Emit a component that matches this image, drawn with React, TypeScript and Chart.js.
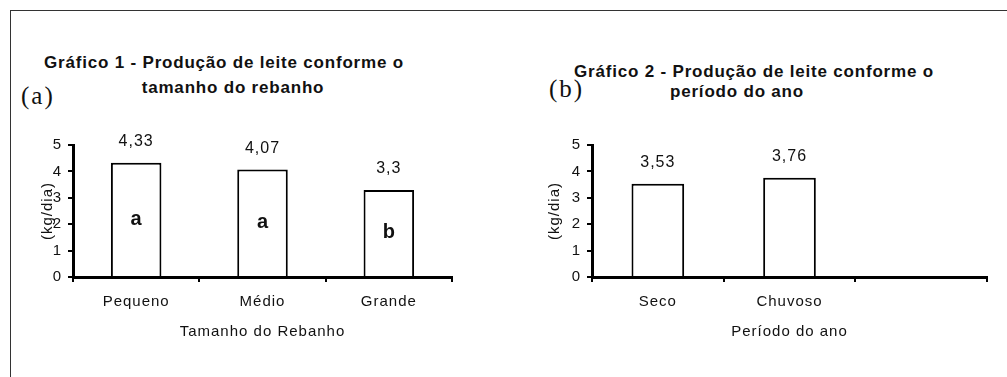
import React, { useEffect, useRef } from 'react';
import { Chart, registerables } from 'chart.js';

Chart.register(...registerables);

// ---- data ----
const categories1 = ['Pequeno', 'Médio', 'Grande'];
const values1: (number | null)[] = [4.33, 4.07, 3.3];
const letters1 = ['a', 'a', 'b'];

const categories2 = ['Seco', 'Chuvoso', ''];
const values2: (number | null)[] = [3.53, 3.76, null];
const letters2 = ['', '', ''];

const yMin = 0;
const yMax = 5;
const yStep = 1;

const title1Lines = ['Gráfico 1 - Produção de leite conforme o', 'tamanho do rebanho'];
const title2Lines = ['Gráfico 2 - Produção de leite conforme o', 'período do ano'];
const xTitle1 = 'Tamanho do Rebanho';
const xTitle2 = 'Período do ano';
const yTitle = '(kg/dia)';

const FONT = '"Liberation Sans", Arial, sans-serif';
const SERIF = '"Liberation Serif", "Times New Roman", serif';
const INK = '#111';

const spacingPlugin = {
  id: 'spacing',
  beforeLayout(chart: any) {
    chart.ctx.letterSpacing = '1px';
  },
  beforeDraw(chart: any) {
    chart.ctx.letterSpacing = '1px';
  },
};

const barLabels = {
  id: 'barLabels',
  afterDatasetsDraw(chart: any, _args: any, opts: any) {
    const ctx = chart.ctx;
    const meta = chart.getDatasetMeta(0);
    const data = chart.data.datasets[0].data;
    meta.data.forEach((bar: any, i: number) => {
      const v = data[i];
      if (v == null) return;
      const { x, y, base } = bar.getProps(['x', 'y', 'base'], true);
      ctx.save();
      ctx.fillStyle = INK;
      ctx.textAlign = 'center';
      ctx.textBaseline = 'middle';
      ctx.letterSpacing = '1px';
      ctx.font = `16px ${FONT}`;
      ctx.fillText(String(v).replace('.', ','), x, y - 21);
      const letter = opts.letters ? opts.letters[i] : '';
      if (letter) {
        ctx.letterSpacing = '0px';
        ctx.font = `bold 20px ${FONT}`;
        ctx.fillText(letter, x, (y + base) / 2);
      }
      ctx.restore();
    });
  },
};

function makeConfig(
  categories: string[],
  values: (number | null)[],
  letters: string[],
  yWidth: number,
  yTitlePad: number,
  padRight: number,
  xTitle: string
): any {
  return {
    type: 'bar',
    data: {
      labels: categories,
      datasets: [
        {
          data: values,
          backgroundColor: '#ffffff',
          borderColor: '#000000',
          borderWidth: 2,
          barPercentage: 0.4,
          categoryPercentage: 1,
        },
      ],
    },
    options: {
      animation: false,
      responsive: false,
      maintainAspectRatio: false,
      devicePixelRatio: 1,
      layout: { padding: { top: 25, right: padRight, left: 0, bottom: 0 } },
      plugins: {
        legend: { display: false },
        tooltip: { enabled: false },
        title: { display: false },
        barLabels: { letters },
      },
      scales: {
        x: {
          z: 1,
          offset: true,
          grid: {
            offset: true,
            drawOnChartArea: false,
            drawTicks: true,
            tickLength: 5,
            color: '#000',
            lineWidth: 2,
          },
          border: { display: true, color: '#000', width: 3 },
          ticks: {
            color: INK,
            font: { family: FONT, size: 15 },
            padding: 11,
            maxRotation: 0,
            autoSkip: false,
          },
          title: {
            display: true,
            text: xTitle,
            color: INK,
            font: { family: FONT, size: 15 },
            padding: { top: 0, bottom: 4 },
          },
          afterFit(scale: any) {
            scale.height = 68;
          },
        },
        y: {
          z: 1,
          min: yMin,
          max: yMax,
          grid: {
            drawOnChartArea: false,
            drawTicks: true,
            tickLength: 5,
            color: '#000',
            lineWidth: 2,
          },
          border: { display: true, color: '#000', width: 3 },
          ticks: {
            stepSize: yStep,
            color: INK,
            font: { family: FONT, size: 15 },
            padding: 6,
          },
          title: {
            display: true,
            text: yTitle,
            color: INK,
            font: { family: FONT, size: 15 },
            padding: { top: yTitlePad, bottom: 0 },
          },
          afterFit(scale: any) {
            scale.width = yWidth;
          },
        },
      },
    },
    plugins: [spacingPlugin, barLabels],
  };
}

function BarChart(props: { left: number; width: number; config: any }) {
  const ref = useRef<HTMLCanvasElement | null>(null);
  useEffect(() => {
    if (!ref.current) return;
    const chart = new Chart(ref.current, props.config);
    return () => chart.destroy();
  }, []);
  return (
    <canvas
      ref={ref}
      width={props.width}
      height={225}
      style={{
        position: 'absolute',
        left: props.left,
        top: 120,
        width: props.width,
        height: 225,
      }}
    />
  );
}

const titleStyle: React.CSSProperties = {
  position: 'absolute',
  whiteSpace: 'nowrap',
  fontFamily: FONT,
  fontWeight: 'bold',
  fontSize: 17,
  lineHeight: '20px',
  letterSpacing: '0.8px',
  color: INK,
  transform: 'translateX(-50%)',
};

const tagStyle: React.CSSProperties = {
  position: 'absolute',
  whiteSpace: 'nowrap',
  fontFamily: SERIF,
  fontSize: 25,
  lineHeight: '26px',
  letterSpacing: '2px',
  color: INK,
};

export default function App() {
  const config1 = makeConfig(categories1, values1, letters1, 73, 39, 28, xTitle1);
  const config2 = makeConfig(categories2, values2, letters2, 92, 46, 20, xTitle2);
  return (
    <div
      style={{
        position: 'absolute',
        left: 0,
        top: 0,
        width: 1007,
        height: 377,
        overflow: 'hidden',
        background: '#fff',
      }}
    >
      <div
        style={{
          position: 'absolute',
          left: 10,
          top: 10,
          width: 1100,
          height: 500,
          borderLeft: '1px solid #333',
          borderTop: '1px solid #333',
        }}
      />
      <div style={{ ...titleStyle, left: 224, top: 53 }}>{title1Lines[0]}</div>
      <div style={{ ...titleStyle, left: 233, top: 78 }}>{title1Lines[1]}</div>
      <div style={{ ...tagStyle, left: 21, top: 83 }}>(a)</div>

      <div style={{ ...titleStyle, left: 754, top: 62 }}>{title2Lines[0]}</div>
      <div style={{ ...titleStyle, left: 737, top: 82 }}>{title2Lines[1]}</div>
      <div style={{ ...tagStyle, left: 549, top: 76 }}>(b)</div>

      <BarChart left={0} width={480} config={config1} />
      <BarChart left={500} width={507} config={config2} />
    </div>
  );
}
